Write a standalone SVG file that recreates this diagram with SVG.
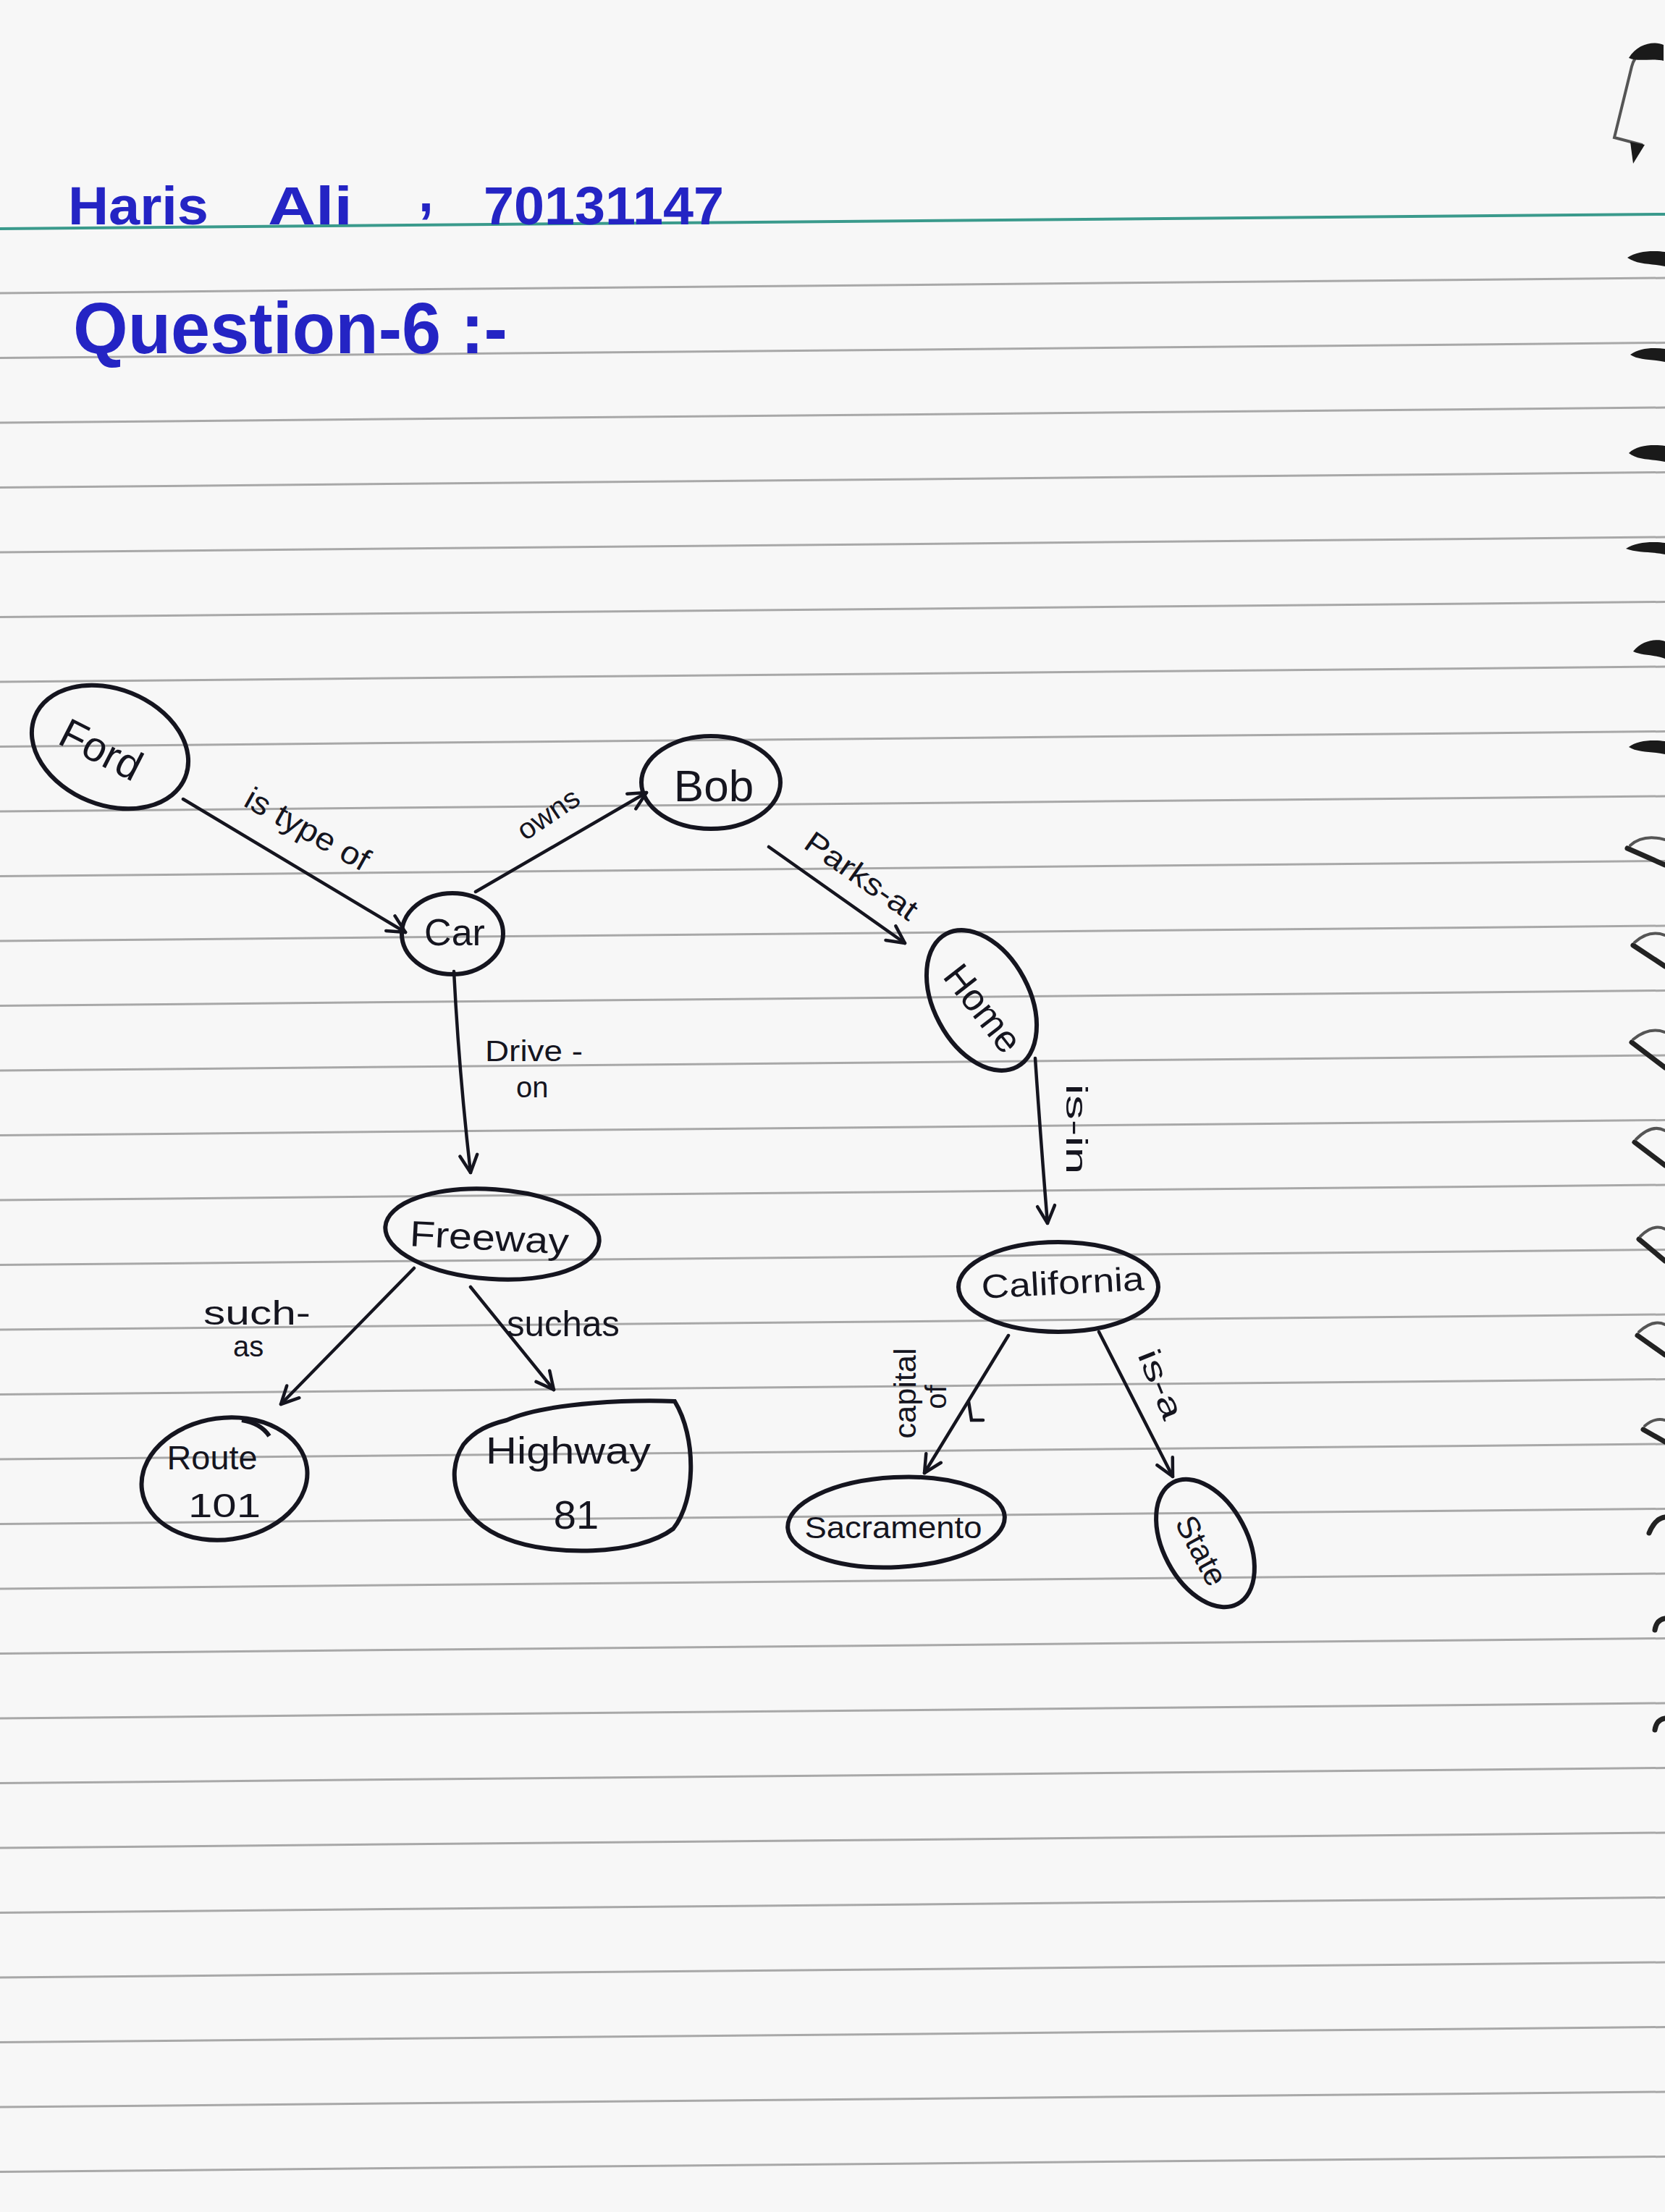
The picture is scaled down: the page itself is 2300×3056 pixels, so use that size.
<svg xmlns="http://www.w3.org/2000/svg" width="2300" height="3056" viewBox="0 0 2300 3056">
<style>
.rule{stroke:#a8a8a8;stroke-width:3}
.node{fill:none;stroke:#15151f;stroke-width:6}
.edge{fill:none;stroke:#15151f;stroke-width:4.5;stroke-linecap:round}
.lbl{font-family:"Liberation Sans",Arial,sans-serif;fill:#15151f}
.hdr{font-family:"Liberation Sans",Arial,sans-serif;fill:#2424c4;font-weight:bold}
.mark{fill:#1a1a1a;stroke:none}
.markl{fill:none;stroke:#222;stroke-width:7;stroke-linecap:round}
.markt{fill:none;stroke:#555;stroke-width:4;stroke-linecap:round}
</style>
<defs>
<marker id="arr" viewBox="0 0 34 34" refX="30" refY="17" markerWidth="34" markerHeight="34" markerUnits="userSpaceOnUse" orient="auto">
<path d="M6,5 L30,17 L6,29" fill="none" stroke="#15151f" stroke-width="4.5" stroke-linecap="round" stroke-linejoin="round"/>
</marker>
</defs>
<rect width="2300" height="3056" fill="#f7f7f7"/>
<g id="page-rules">
<line x1="0" y1="316" x2="2300" y2="296" stroke="#3a9a8c" stroke-width="4"/>
<line class="rule" x1="0" y1="405" x2="2300" y2="384"/>
<line class="rule" x1="0" y1="494.5" x2="2300" y2="473.5"/>
<line class="rule" x1="0" y1="584" x2="2300" y2="563"/>
<line class="rule" x1="0" y1="673.5" x2="2300" y2="652.5"/>
<line class="rule" x1="0" y1="763" x2="2300" y2="742"/>
<line class="rule" x1="0" y1="852.5" x2="2300" y2="831.5"/>
<line class="rule" x1="0" y1="942" x2="2300" y2="921"/>
<line class="rule" x1="0" y1="1031.5" x2="2300" y2="1010.5"/>
<line class="rule" x1="0" y1="1121" x2="2300" y2="1100"/>
<line class="rule" x1="0" y1="1210.5" x2="2300" y2="1189.5"/>
<line class="rule" x1="0" y1="1300" x2="2300" y2="1279"/>
<line class="rule" x1="0" y1="1389.5" x2="2300" y2="1368.5"/>
<line class="rule" x1="0" y1="1479" x2="2300" y2="1458"/>
<line class="rule" x1="0" y1="1568.5" x2="2300" y2="1547.5"/>
<line class="rule" x1="0" y1="1658" x2="2300" y2="1637"/>
<line class="rule" x1="0" y1="1747.5" x2="2300" y2="1726.5"/>
<line class="rule" x1="0" y1="1837" x2="2300" y2="1816"/>
<line class="rule" x1="0" y1="1926.5" x2="2300" y2="1905.5"/>
<line class="rule" x1="0" y1="2016" x2="2300" y2="1995"/>
<line class="rule" x1="0" y1="2105.5" x2="2300" y2="2084.5"/>
<line class="rule" x1="0" y1="2195" x2="2300" y2="2174"/>
<line class="rule" x1="0" y1="2284.5" x2="2300" y2="2263.5"/>
<line class="rule" x1="0" y1="2374" x2="2300" y2="2353"/>
<line class="rule" x1="0" y1="2463.5" x2="2300" y2="2442.5"/>
<line class="rule" x1="0" y1="2553" x2="2300" y2="2532"/>
<line class="rule" x1="0" y1="2642.5" x2="2300" y2="2621.5"/>
<line class="rule" x1="0" y1="2732" x2="2300" y2="2711"/>
<line class="rule" x1="0" y1="2821.5" x2="2300" y2="2800.5"/>
<line class="rule" x1="0" y1="2911" x2="2300" y2="2890"/>
<line class="rule" x1="0" y1="3000.5" x2="2300" y2="2979.5"/>
</g>
<g id="binding-marks">
<path class="markt" d="M2290,70 C2270,66 2258,76 2254,92 L2230,190 L2268,200"/>
<path class="mark" d="M2250,80 C2262,60 2285,56 2298,62 L2298,84 C2282,80 2262,86 2250,80 Z"/>
<path class="mark" d="M2252,196 L2272,200 L2256,226 Z"/>
<path class="mark" d="M2248,356 C2262,346 2285,346 2300,348 L2300,368 C2282,364 2262,366 2248,356 Z"/>
<path class="mark" d="M2252,490 C2265,480 2285,480 2300,482 L2300,500 C2282,496 2264,498 2252,490 Z"/>
<path class="mark" d="M2250,626 C2262,614 2285,614 2300,616 L2300,638 C2282,634 2262,636 2250,626 Z"/>
<path class="mark" d="M2246,758 C2260,748 2285,748 2300,750 L2300,766 C2282,762 2262,764 2246,758 Z"/>
<path class="mark" d="M2256,900 C2268,884 2290,882 2300,886 L2300,910 C2285,904 2268,906 2256,900 Z"/>
<path class="mark" d="M2250,1032 C2262,1022 2285,1022 2300,1024 L2300,1042 C2282,1038 2262,1040 2250,1032 Z"/>
<path class="markl" d="M2248,1172 L2300,1195"/><path class="markt" d="M2252,1168 Q2270,1152 2300,1160"/>
<path class="markl" d="M2256,1306 L2300,1335"/><path class="markt" d="M2258,1302 Q2278,1284 2300,1292"/>
<path class="markl" d="M2254,1440 L2300,1475"/><path class="markt" d="M2256,1436 Q2278,1418 2300,1426"/>
<path class="markl" d="M2258,1578 L2300,1610"/><path class="markt" d="M2260,1574 Q2282,1552 2300,1562"/>
<path class="markl" d="M2264,1712 L2300,1742"/><path class="markt" d="M2266,1708 Q2284,1690 2300,1698"/>
<path class="markl" d="M2262,1845 L2300,1872"/><path class="markt" d="M2264,1840 Q2284,1822 2300,1830"/>
<path class="markl" d="M2270,1975 L2300,1992"/><path class="markt" d="M2272,1970 Q2286,1958 2300,1962"/>
<path class="markl" d="M2278,2118 Q2286,2098 2300,2096"/>
<path class="markl" d="M2286,2252 Q2288,2238 2300,2236"/>
<path class="markl" d="M2286,2390 Q2288,2376 2300,2374"/>
</g>
<g id="header">
<text class="hdr" x="94" y="310" font-size="75" textLength="194" lengthAdjust="spacingAndGlyphs">Haris</text>
<text class="hdr" x="370" y="310" font-size="75" textLength="117" lengthAdjust="spacingAndGlyphs">Ali</text>
<text class="hdr" x="578" y="292" font-size="75">,</text>
<text class="hdr" x="668" y="310" font-size="75" textLength="332" lengthAdjust="spacingAndGlyphs">70131147</text>
<text class="hdr" x="101" y="488" font-size="100" textLength="600" lengthAdjust="spacingAndGlyphs">Question-6 :-</text>
</g>
<g id="connectors">
<path class="edge" d="M253,1104 L560,1288" marker-end="url(#arr)"/>
<path class="edge" d="M657,1232 L893,1095" marker-end="url(#arr)"/>
<path class="edge" d="M1062,1170 L1250,1303" marker-end="url(#arr)"/>
<path class="edge" d="M627,1342 Q634,1480 650,1620" marker-end="url(#arr)"/>
<path class="edge" d="M1430,1462 Q1438,1580 1447,1690" marker-end="url(#arr)"/>
<path class="edge" d="M572,1752 L388,1940" marker-end="url(#arr)"/>
<path class="edge" d="M650,1778 L765,1920" marker-end="url(#arr)"/>
<path class="edge" d="M1393,1845 L1277,2035" marker-end="url(#arr)"/>
<path class="edge" d="M1518,1840 L1620,2040" marker-end="url(#arr)"/>
<path class="edge" d="M1338,1936 L1342,1962 L1358,1962"/>
<text class="lbl" x="425" y="1145" font-size="44" text-anchor="middle" dominant-baseline="central" textLength="190" lengthAdjust="spacingAndGlyphs" transform="rotate(29 425 1145)">is type of</text>
<text class="lbl" x="757" y="1124" font-size="40" text-anchor="middle" dominant-baseline="central" textLength="95" lengthAdjust="spacingAndGlyphs" transform="rotate(-34 757 1124)">owns</text>
<text class="lbl" x="1190" y="1210" font-size="42" text-anchor="middle" dominant-baseline="central" textLength="180" lengthAdjust="spacingAndGlyphs" transform="rotate(35 1190 1210)">Parks-at</text>
<text class="lbl" x="670" y="1466" font-size="40" textLength="135" lengthAdjust="spacingAndGlyphs">Drive -</text>
<text class="lbl" x="713" y="1516" font-size="40">on</text>
<text class="lbl" x="1487" y="1560" font-size="40" text-anchor="middle" dominant-baseline="central" textLength="125" lengthAdjust="spacingAndGlyphs" transform="rotate(90 1487 1560)">is-in</text>
<text class="lbl" x="281" y="1830" font-size="46" textLength="148" lengthAdjust="spacingAndGlyphs">such-</text>
<text class="lbl" x="322" y="1874" font-size="40">as</text>
<text class="lbl" x="700" y="1846" font-size="50" textLength="156" lengthAdjust="spacingAndGlyphs">suchas</text>
<text class="lbl" x="1250" y="1925" font-size="42" text-anchor="middle" dominant-baseline="central" textLength="125" lengthAdjust="spacingAndGlyphs" transform="rotate(-90 1250 1925)">capital</text>
<text class="lbl" x="1293" y="1930" font-size="40" text-anchor="middle" dominant-baseline="central" transform="rotate(-90 1293 1930)">of</text>
<text class="lbl" x="1604" y="1912" font-size="44" text-anchor="middle" dominant-baseline="central" textLength="100" lengthAdjust="spacingAndGlyphs" transform="rotate(68 1604 1912)">is-a</text>
</g>
<g id="node-ford">
<ellipse class="node" cx="152" cy="1032" rx="112" ry="80" transform="rotate(22 152 1032)"/>
<text class="lbl" x="140" y="1035" font-size="58" text-anchor="middle" dominant-baseline="central" transform="rotate(27 140 1035)">Ford</text>
</g>
<g id="node-bob">
<ellipse class="node" cx="982" cy="1081" rx="96" ry="64"/>
<text class="lbl" x="986" y="1085" font-size="62" text-anchor="middle" dominant-baseline="central">Bob</text>
</g>
<g id="node-car">
<ellipse class="node" cx="625" cy="1290" rx="70" ry="56"/>
<text class="lbl" x="628" y="1288" font-size="52" text-anchor="middle" dominant-baseline="central">Car</text>
</g>
<g id="node-home">
<ellipse class="node" cx="1356" cy="1382" rx="104" ry="66" transform="rotate(62 1356 1382)"/>
<text class="lbl" x="1358" y="1393" font-size="52" text-anchor="middle" dominant-baseline="central" transform="rotate(52 1358 1393)">Home</text>
</g>
<g id="node-freeway">
<ellipse class="node" cx="680" cy="1705" rx="148" ry="62" transform="rotate(4 680 1705)"/>
<text class="lbl" x="676" y="1710" font-size="50" text-anchor="middle" dominant-baseline="central" textLength="220" lengthAdjust="spacingAndGlyphs" transform="rotate(3 676 1710)">Freeway</text>
</g>
<g id="node-california">
<ellipse class="node" cx="1462" cy="1778" rx="138" ry="62"/>
<text class="lbl" x="1468" y="1772" font-size="46" text-anchor="middle" dominant-baseline="central" textLength="225" lengthAdjust="spacingAndGlyphs" transform="rotate(-3 1468 1772)">California</text>
</g>
<g id="node-route101">
<ellipse class="node" cx="310" cy="2043" rx="115" ry="84" transform="rotate(-8 310 2043)"/>
<path class="node" d="M334,1962 Q360,1966 372,1984" stroke-width="4"/>
<text class="lbl" x="293" y="2014" font-size="46" text-anchor="middle" dominant-baseline="central" textLength="125" lengthAdjust="spacingAndGlyphs">Route</text>
<text class="lbl" x="310" y="2080" font-size="46" text-anchor="middle" dominant-baseline="central" textLength="100" lengthAdjust="spacingAndGlyphs">101</text>
</g>
<g id="node-highway81">
<path class="node" d="M700,1962 C760,1936 880,1934 932,1936 C962,1985 962,2072 930,2112 C880,2150 760,2150 700,2126 C632,2100 612,2040 640,1996 C656,1976 676,1968 700,1962 Z"/>
<text class="lbl" x="785" y="2004" font-size="52" text-anchor="middle" dominant-baseline="central" textLength="228" lengthAdjust="spacingAndGlyphs">Highway</text>
<text class="lbl" x="796" y="2092" font-size="56" text-anchor="middle" dominant-baseline="central">81</text>
</g>
<g id="node-sacramento">
<ellipse class="node" cx="1238" cy="2103" rx="150" ry="62" transform="rotate(-3 1238 2103)"/>
<text class="lbl" x="1234" y="2110" font-size="42" text-anchor="middle" dominant-baseline="central" textLength="245" lengthAdjust="spacingAndGlyphs">Sacramento</text>
</g>
<g id="node-state">
<ellipse class="node" cx="1665" cy="2132" rx="95" ry="58" transform="rotate(62 1665 2132)"/>
<text class="lbl" x="1660" y="2142" font-size="44" text-anchor="middle" dominant-baseline="central" transform="rotate(62 1660 2142)">State</text>
</g>
</svg>
